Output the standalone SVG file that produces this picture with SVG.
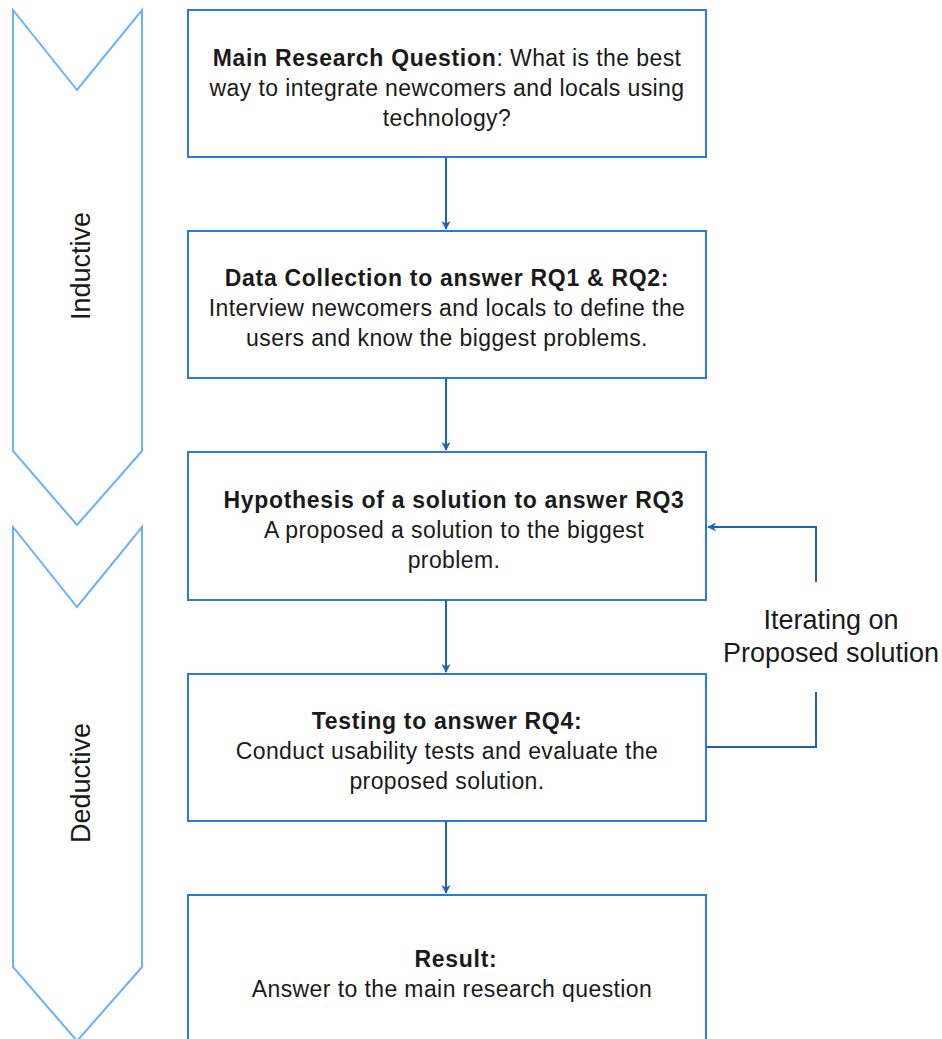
<svg xmlns="http://www.w3.org/2000/svg" width="942" height="1039" viewBox="0 0 942 1039">
<style>
.chev{fill:#fff;stroke:#66b2ff;stroke-width:2}
.box{fill:#fff;stroke:#2a7ad6;stroke-width:2}
.t{font-family:"Liberation Sans",Arial,sans-serif;font-size:23px;fill:#1a1a1a;text-anchor:middle;letter-spacing:0.4px}
.b{font-weight:bold;letter-spacing:0.7px}
.side{font-family:"Liberation Sans",Arial,sans-serif;font-size:27px;fill:#1a1a1a;text-anchor:middle}
.con{fill:none;stroke:#1f63b8;stroke-width:2}
</style>
<defs>
<marker id="ah" viewBox="0 0 10 10" refX="9" refY="5" markerWidth="6" markerHeight="6" orient="auto" markerUnits="userSpaceOnUse" overflow="visible">
<path d="M0,0 L10,5 L0,10 L3,5 Z" fill="#1f63b8" transform="scale(1.5) translate(-3,-1.7)"/>
</marker>
</defs>
<g id="inductive">
<path class="chev" d="M13,10 L77,90 L142,10 L142,451 L77,525 L13,451 Z"/>
<text class="side" transform="translate(90,266) rotate(-90)">Inductive</text>
</g>
<g id="deductive">
<path class="chev" d="M13,527 L77,607 L142,527 L142,967 L77,1041 L13,967 Z"/>
<text class="side" transform="translate(90,783) rotate(-90)">Deductive</text>
</g>
<g id="n1">
<rect class="box" x="188" y="10" width="518" height="147"/>
<text class="t" x="447" y="66"><tspan class="b">Main Research Question</tspan>: What is the best</text>
<text class="t" x="447" y="96">way to integrate newcomers and locals using</text>
<text class="t" x="447" y="126">technology?</text>
</g>
<g id="n2">
<rect class="box" x="188" y="231" width="518" height="147"/>
<text class="t b" x="447" y="286">Data Collection to answer RQ1 &amp; RQ2:</text>
<text class="t" x="447" y="316">Interview newcomers and locals to define the</text>
<text class="t" x="447" y="346">users and know the biggest problems.</text>
</g>
<g id="n3">
<rect class="box" x="188" y="452" width="518" height="148"/>
<text class="t b" x="454" y="508">Hypothesis of a solution to answer RQ3</text>
<text class="t" x="454" y="538">A proposed a solution to the biggest</text>
<text class="t" x="454" y="568">problem.</text>
</g>
<g id="n4">
<rect class="box" x="188" y="674" width="518" height="147"/>
<text class="t b" x="447" y="729">Testing to answer RQ4:</text>
<text class="t" x="447" y="759">Conduct usability tests and evaluate the</text>
<text class="t" x="447" y="789">proposed solution.</text>
</g>
<g id="n5">
<rect class="box" x="188" y="895" width="518" height="160"/>
<text class="t b" x="456" y="967">Result:</text>
<text class="t" x="452" y="997">Answer to the main research question</text>
</g>
<g id="loop-label">
<text class="side" x="831" y="629">Iterating on</text>
<text class="side" x="831" y="662">Proposed solution</text>
</g>
<g id="connectors">
<path class="con" d="M446,157 L446,229" marker-end="url(#ah)"/>
<path class="con" d="M446,378 L446,450" marker-end="url(#ah)"/>
<path class="con" d="M446,600 L446,672" marker-end="url(#ah)"/>
<path class="con" d="M446,821 L446,893" marker-end="url(#ah)"/>
<path class="con" d="M706,747 L816,747 L816,692"/>
<path class="con" d="M816,582 L816,527 L708,527" marker-end="url(#ah)"/>
</g>
</svg>
